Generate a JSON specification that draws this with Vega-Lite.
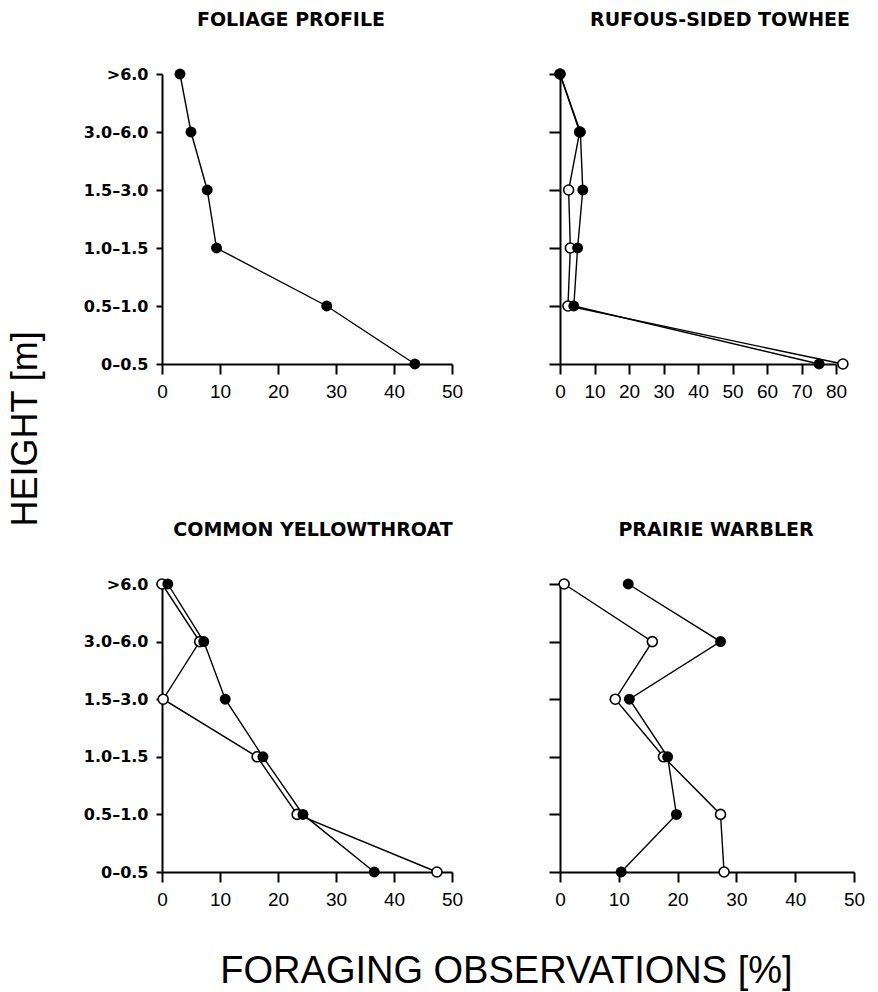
{
  "$schema": "https://vega.github.io/schema/vega-lite/v6.json",
  "background": "white",
  "padding": {"left": 8, "top": 10, "right": 5, "bottom": 5},
  "datasets": {
    "obs": [
      {"panel": "Foliage", "series": "filled", "height": ">6.0", "value": 3.1},
      {"panel": "Foliage", "series": "filled", "height": "3.0–6.0", "value": 5.0},
      {"panel": "Foliage", "series": "filled", "height": "1.5–3.0", "value": 7.8},
      {"panel": "Foliage", "series": "filled", "height": "1.0–1.5", "value": 9.4},
      {"panel": "Foliage", "series": "filled", "height": "0.5–1.0", "value": 28.4},
      {"panel": "Foliage", "series": "filled", "height": "0–0.5", "value": 43.6},

      {"panel": "Towhee", "series": "open", "height": ">6.0", "value": 0},
      {"panel": "Towhee", "series": "open", "height": "3.0–6.0", "value": 5.7},
      {"panel": "Towhee", "series": "open", "height": "1.5–3.0", "value": 2.5},
      {"panel": "Towhee", "series": "open", "height": "1.0–1.5", "value": 3.0},
      {"panel": "Towhee", "series": "open", "height": "0.5–1.0", "value": 2.3},
      {"panel": "Towhee", "series": "open", "height": "0–0.5", "value": 82.0},
      {"panel": "Towhee", "series": "filled", "height": ">6.0", "value": 0},
      {"panel": "Towhee", "series": "filled", "height": "3.0–6.0", "value": 5.9},
      {"panel": "Towhee", "series": "filled", "height": "1.5–3.0", "value": 6.6},
      {"panel": "Towhee", "series": "filled", "height": "1.0–1.5", "value": 5.1},
      {"panel": "Towhee", "series": "filled", "height": "0.5–1.0", "value": 4.0},
      {"panel": "Towhee", "series": "filled", "height": "0–0.5", "value": 75.1},

      {"panel": "Yellowthroat", "series": "open", "height": ">6.0", "value": 0},
      {"panel": "Yellowthroat", "series": "open", "height": "3.0–6.0", "value": 6.5},
      {"panel": "Yellowthroat", "series": "open", "height": "1.5–3.0", "value": 0.2},
      {"panel": "Yellowthroat", "series": "open", "height": "1.0–1.5", "value": 16.4},
      {"panel": "Yellowthroat", "series": "open", "height": "0.5–1.0", "value": 23.3},
      {"panel": "Yellowthroat", "series": "open", "height": "0–0.5", "value": 47.4},
      {"panel": "Yellowthroat", "series": "filled", "height": ">6.0", "value": 1.0},
      {"panel": "Yellowthroat", "series": "filled", "height": "3.0–6.0", "value": 7.2},
      {"panel": "Yellowthroat", "series": "filled", "height": "1.5–3.0", "value": 10.9},
      {"panel": "Yellowthroat", "series": "filled", "height": "1.0–1.5", "value": 17.4},
      {"panel": "Yellowthroat", "series": "filled", "height": "0.5–1.0", "value": 24.3},
      {"panel": "Yellowthroat", "series": "filled", "height": "0–0.5", "value": 36.6},

      {"panel": "Prairie", "series": "open", "height": ">6.0", "value": 0.7},
      {"panel": "Prairie", "series": "open", "height": "3.0–6.0", "value": 15.7},
      {"panel": "Prairie", "series": "open", "height": "1.5–3.0", "value": 9.4},
      {"panel": "Prairie", "series": "open", "height": "1.0–1.5", "value": 17.6},
      {"panel": "Prairie", "series": "open", "height": "0.5–1.0", "value": 27.3},
      {"panel": "Prairie", "series": "open", "height": "0–0.5", "value": 27.9},
      {"panel": "Prairie", "series": "filled", "height": ">6.0", "value": 11.6},
      {"panel": "Prairie", "series": "filled", "height": "3.0–6.0", "value": 27.3},
      {"panel": "Prairie", "series": "filled", "height": "1.5–3.0", "value": 11.8},
      {"panel": "Prairie", "series": "filled", "height": "1.0–1.5", "value": 18.3},
      {"panel": "Prairie", "series": "filled", "height": "0.5–1.0", "value": 19.8},
      {"panel": "Prairie", "series": "filled", "height": "0–0.5", "value": 10.4}
    ]
  },
  "data": {"name": "obs"},
  "title": {"text": "FORAGING OBSERVATIONS [%]", "orient": "bottom", "anchor": "middle", "font": "Liberation Sans", "fontSize": 38, "fontWeight": "normal", "color": "black", "offset": 44, "dx": 70},
  "vconcat": [
    {
      "title": {"text": "HEIGHT [m]", "orient": "left", "anchor": "middle", "font": "Liberation Sans", "fontSize": 36, "fontWeight": "normal", "color": "black", "offset": 38, "dx": 31},
      "bounds": "flush",
      "columns": 2,
      "spacing": {"row": 220, "column": 108},
      "concat": [
        {
          "width": 290, "height": 290,
          "title": {"text": "FOLIAGE PROFILE", "font": "DejaVu Sans", "fontWeight": "bold", "fontSize": 19, "offset": 36, "dx": -16, "anchor": "middle", "frame": "group", "color": "black"},
          "transform": [{"filter": "datum.panel === 'Foliage'"}],
          "encoding": {
            "x": {"field": "value", "type": "quantitative", "scale": {"domain": [0, 50]}, "axis": {"values": [0, 10, 20, 30, 40, 50], "title": null, "tickSize": 10, "labelPadding": 8, "labelFont": "Liberation Sans", "labelFontSize": 19, "labelFlush": false, "labelOverlap": false}},
            "y": {"field": "height", "type": "ordinal", "sort": [">6.0", "3.0–6.0", "1.5–3.0", "1.0–1.5", "0.5–1.0", "0–0.5"], "scale": {"type": "point", "padding": 0}, "axis": {"title": null, "tickSize": 6, "labelPadding": 8, "labelFont": "DejaVu Sans", "labelFontWeight": "bold", "labelFontSize": 16}}
          },
          "layer": [
            {"mark": {"type": "line", "color": "black", "strokeWidth": 1.4}, "encoding": {"detail": {"field": "series"}, "order": {"value": null}}},
            {"transform": [{"filter": "datum.series === 'open'"}], "mark": {"type": "point", "shape": "circle", "filled": true, "fill": "white", "stroke": "black", "strokeWidth": 1.6, "size": 100, "opacity": 1}},
            {"transform": [{"filter": "datum.series === 'filled'"}], "mark": {"type": "circle", "color": "black", "size": 120, "opacity": 1}}
          ]
        },
        {
          "width": 276, "height": 290,
          "title": {"text": "RUFOUS-SIDED TOWHEE", "font": "DejaVu Sans", "fontWeight": "bold", "fontSize": 19, "offset": 36, "dx": 22, "anchor": "middle", "frame": "group", "color": "black"},
          "transform": [{"filter": "datum.panel === 'Towhee'"}],
          "encoding": {
            "x": {"field": "value", "type": "quantitative", "scale": {"domain": [0, 80]}, "axis": {"values": [0, 10, 20, 30, 40, 50, 60, 70, 80], "title": null, "tickSize": 10, "labelPadding": 8, "labelFont": "Liberation Sans", "labelFontSize": 19, "labelFlush": false, "labelOverlap": false}},
            "y": {"field": "height", "type": "ordinal", "sort": [">6.0", "3.0–6.0", "1.5–3.0", "1.0–1.5", "0.5–1.0", "0–0.5"], "scale": {"type": "point", "padding": 0}, "axis": {"title": null, "tickSize": 11, "labels": false}}
          },
          "layer": [
            {"mark": {"type": "line", "color": "black", "strokeWidth": 1.4}, "encoding": {"detail": {"field": "series"}, "order": {"value": null}}},
            {"transform": [{"filter": "datum.series === 'open'"}], "mark": {"type": "point", "shape": "circle", "filled": true, "fill": "white", "stroke": "black", "strokeWidth": 1.6, "size": 100, "opacity": 1}},
            {"transform": [{"filter": "datum.series === 'filled'"}], "mark": {"type": "circle", "color": "black", "size": 120, "opacity": 1}}
          ]
        },
        {
          "width": 290, "height": 288,
          "title": {"text": "COMMON YELLOWTHROAT", "font": "DejaVu Sans", "fontWeight": "bold", "fontSize": 19, "offset": 36, "dx": 6, "anchor": "middle", "frame": "group", "color": "black"},
          "transform": [{"filter": "datum.panel === 'Yellowthroat'"}],
          "encoding": {
            "x": {"field": "value", "type": "quantitative", "scale": {"domain": [0, 50]}, "axis": {"values": [0, 10, 20, 30, 40, 50], "title": null, "tickSize": 10, "labelPadding": 8, "labelFont": "Liberation Sans", "labelFontSize": 19, "labelFlush": false, "labelOverlap": false}},
            "y": {"field": "height", "type": "ordinal", "sort": [">6.0", "3.0–6.0", "1.5–3.0", "1.0–1.5", "0.5–1.0", "0–0.5"], "scale": {"type": "point", "padding": 0}, "axis": {"title": null, "tickSize": 6, "labelPadding": 8, "labelFont": "DejaVu Sans", "labelFontWeight": "bold", "labelFontSize": 16}}
          },
          "layer": [
            {"mark": {"type": "line", "color": "black", "strokeWidth": 1.4}, "encoding": {"detail": {"field": "series"}, "order": {"value": null}}},
            {"transform": [{"filter": "datum.series === 'open'"}], "mark": {"type": "point", "shape": "circle", "filled": true, "fill": "white", "stroke": "black", "strokeWidth": 1.6, "size": 100, "opacity": 1}},
            {"transform": [{"filter": "datum.series === 'filled'"}], "mark": {"type": "circle", "color": "black", "size": 120, "opacity": 1}}
          ]
        },
        {
          "width": 294, "height": 288,
          "title": {"text": "PRAIRIE WARBLER", "font": "DejaVu Sans", "fontWeight": "bold", "fontSize": 19, "offset": 36, "dx": 9, "anchor": "middle", "frame": "group", "color": "black"},
          "transform": [{"filter": "datum.panel === 'Prairie'"}],
          "encoding": {
            "x": {"field": "value", "type": "quantitative", "scale": {"domain": [0, 50]}, "axis": {"values": [0, 10, 20, 30, 40, 50], "title": null, "tickSize": 10, "labelPadding": 8, "labelFont": "Liberation Sans", "labelFontSize": 19, "labelFlush": false, "labelOverlap": false}},
            "y": {"field": "height", "type": "ordinal", "sort": [">6.0", "3.0–6.0", "1.5–3.0", "1.0–1.5", "0.5–1.0", "0–0.5"], "scale": {"type": "point", "padding": 0}, "axis": {"title": null, "tickSize": 11, "labels": false}}
          },
          "layer": [
            {"mark": {"type": "line", "color": "black", "strokeWidth": 1.4}, "encoding": {"detail": {"field": "series"}, "order": {"value": null}}},
            {"transform": [{"filter": "datum.series === 'open'"}], "mark": {"type": "point", "shape": "circle", "filled": true, "fill": "white", "stroke": "black", "strokeWidth": 1.6, "size": 100, "opacity": 1}},
            {"transform": [{"filter": "datum.series === 'filled'"}], "mark": {"type": "circle", "color": "black", "size": 120, "opacity": 1}}
          ]
        }
      ]
    }
  ],
  "config": {
    "view": {"stroke": null},
    "axis": {"grid": false, "domainColor": "black", "tickColor": "black", "labelColor": "black", "domainWidth": 2, "tickWidth": 2}
  }
}
